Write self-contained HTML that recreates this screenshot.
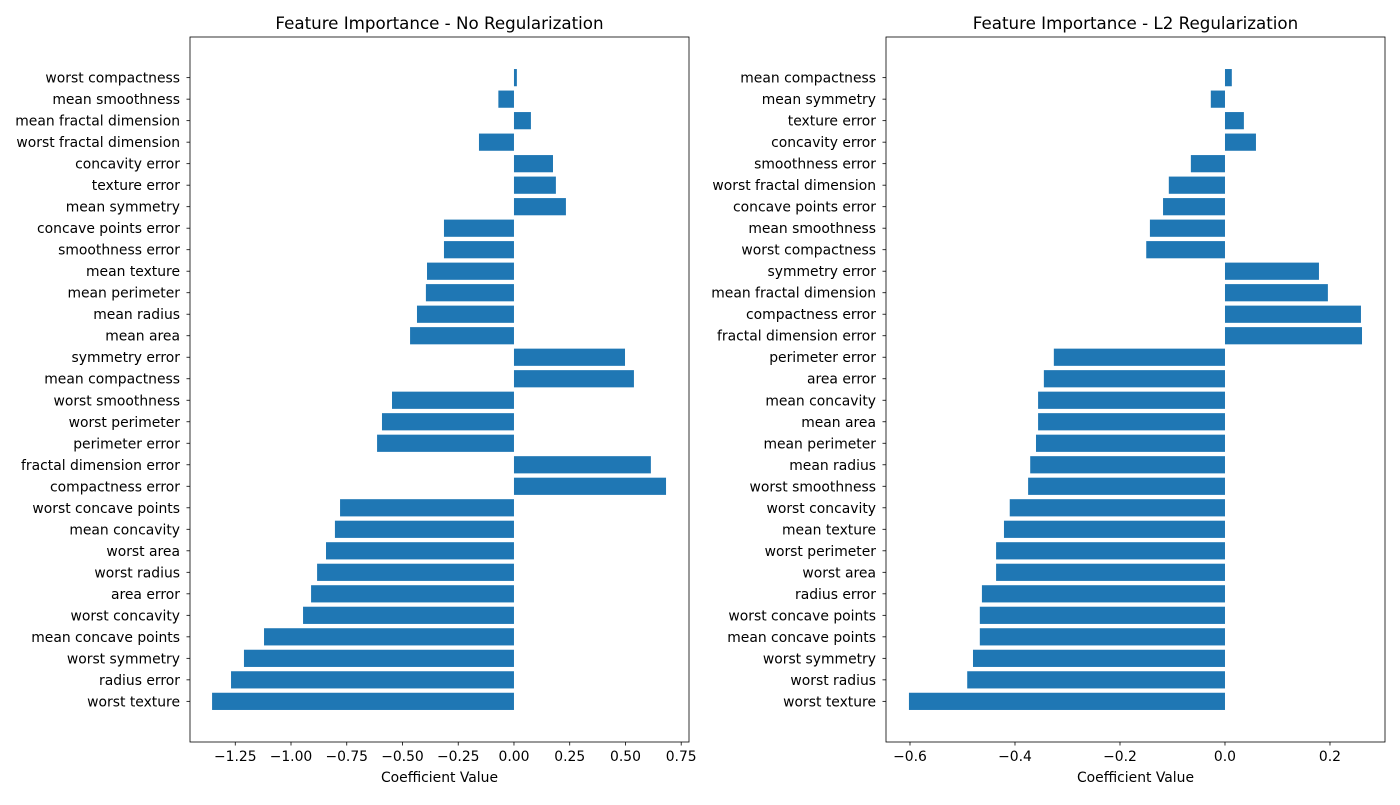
<!DOCTYPE html>
<html><head><meta charset="utf-8"><style>
html,body{margin:0;padding:0;background:#fff;}
svg text{font-family:"DejaVu Sans","Liberation Sans",sans-serif;fill:#000;}
</style></head><body>
<svg id="chart" width="1400" height="800" xmlns="http://www.w3.org/2000/svg"></svg>
<script>
const leftCats=["worst compactness","mean smoothness","mean fractal dimension","worst fractal dimension","concavity error","texture error","mean symmetry","concave points error","smoothness error","mean texture","mean perimeter","mean radius","mean area","symmetry error","mean compactness","worst smoothness","worst perimeter","perimeter error","fractal dimension error","compactness error","worst concave points","mean concavity","worst area","worst radius","area error","worst concavity","mean concave points","worst symmetry","radius error","worst texture"];
const leftVals=[0.013,-0.07,0.076,-0.157,0.175,0.188,0.233,-0.314,-0.314,-0.39,-0.395,-0.435,-0.466,0.498,0.538,-0.547,-0.592,-0.614,0.614,0.682,-0.78,-0.803,-0.843,-0.883,-0.91,-0.946,-1.121,-1.211,-1.269,-1.354];
const leftTicks=[-1.25,-1.0,-0.75,-0.5,-0.25,0,0.25,0.5,0.75];
const leftTickLabels=["−1.25","−1.00","−0.75","−0.50","−0.25","0.00","0.25","0.50","0.75"];
const rightCats=["mean compactness","mean symmetry","texture error","concavity error","smoothness error","worst fractal dimension","concave points error","mean smoothness","worst compactness","symmetry error","mean fractal dimension","compactness error","fractal dimension error","perimeter error","area error","mean concavity","mean area","mean perimeter","mean radius","worst smoothness","worst concavity","mean texture","worst perimeter","worst area","radius error","worst concave points","mean concave points","worst symmetry","worst radius","worst texture"];
const rightVals=[0.013,-0.027,0.036,0.059,-0.065,-0.107,-0.118,-0.143,-0.15,0.179,0.196,0.259,0.261,-0.326,-0.345,-0.356,-0.356,-0.36,-0.371,-0.375,-0.41,-0.421,-0.436,-0.436,-0.463,-0.467,-0.467,-0.48,-0.491,-0.602];
const rightTicks=[-0.6,-0.4,-0.2,0,0.2];
const rightTickLabels=["−0.6","−0.4","−0.2","0.0","0.2"];

const NS="http://www.w3.org/2000/svg";
const svg=document.getElementById('chart');
function mk(tag,attrs,parent){const e=document.createElementNS(NS,tag);for(const k in attrs)e.setAttribute(k,attrs[k]);(parent||svg).appendChild(e);return e;}

function panel(id,x0,x1,dmin,dmax,cats,vals,ticks,tickLabels,title){
  const top=37,bot=742;
  const g=mk('g',{});
  
  
  const xs=v=>x0+(v-dmin)/(dmax-dmin)*(x1-x0);
  const n=cats.length;
  const ymin=-0.4-(n-0.2)*0.05, ymax=n-1+0.4+(n-0.2)*0.05;
  const ys=i=>top+(i-ymin)/(ymax-ymin)*(bot-top);
  const unit=(bot-top)/(ymax-ymin);
  cats.forEach((c,i)=>{
    const v=vals[i];
    const a=xs(0),b=xs(v);
    const r=mk('rect',{x:Math.min(a,b),y:ys(i)-0.4*unit,width:Math.abs(b-a),height:0.8*unit,fill:'#1f77b4'},g);
    
    
    mk('line',{x1:x0,x2:x0-3.5,y1:ys(i),y2:ys(i),stroke:'#000','stroke-width':0.8},g);
    const t=mk('text',{x:x0-10,y:ys(i)+5,'text-anchor':'end','font-size':13.9},g);
    t.textContent=c;
    
    
  });
  ticks.forEach((tv,i)=>{
    const x=xs(tv);
    mk('line',{x1:x,x2:x,y1:bot,y2:bot+3.5,stroke:'#000','stroke-width':0.8},g);
    const t=mk('text',{x:x,y:bot+19,'text-anchor':'middle','font-size':13.9},g);
    t.textContent=tickLabels[i];
    
    
  });
  mk('rect',{x:x0,y:top,width:x1-x0,height:bot-top,fill:'none',stroke:'#000','stroke-width':0.8},g);
  const tt=mk('text',{x:(x0+x1)/2,y:29,'text-anchor':'middle','font-size':16.7},g);
  tt.textContent=title;
  
  
  const xl=mk('text',{x:(x0+x1)/2,y:782,'text-anchor':'middle','font-size':13.9},g);
  xl.textContent='Coefficient Value';
  
  
}
panel('no-regularization',190,689,-1.453,0.785,leftCats,leftVals,leftTicks,leftTickLabels,'Feature Importance - No Regularization');
panel('l2-regularization',886,1385,-0.6457,0.3048,rightCats,rightVals,rightTicks,rightTickLabels,'Feature Importance - L2 Regularization');
</script>
</body></html>
